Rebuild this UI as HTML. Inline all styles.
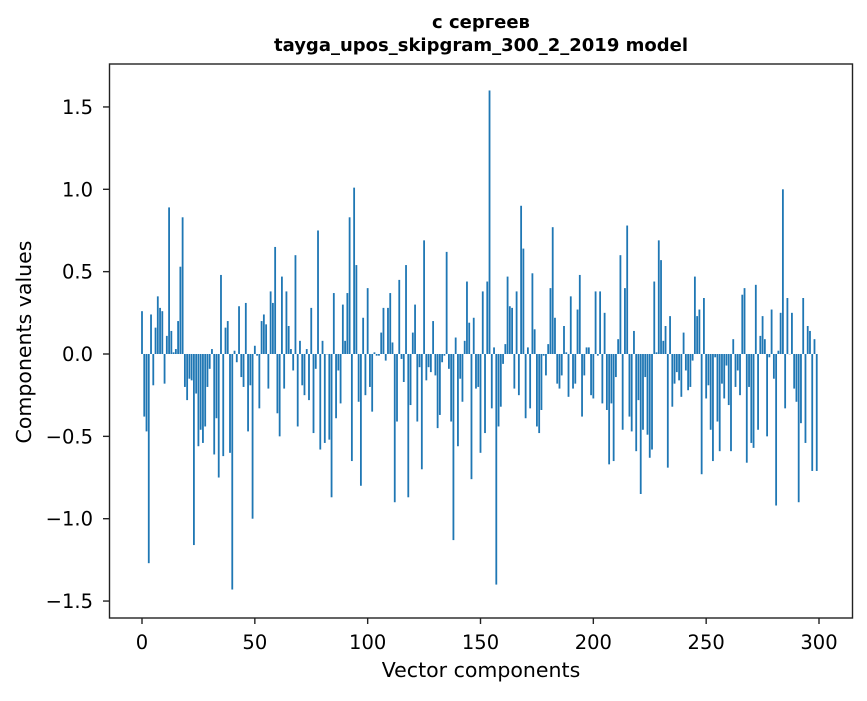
<!DOCTYPE html>
<html><head><meta charset="utf-8"><style>
html,body{margin:0;padding:0;background:#fff;}
svg text{font-family:"DejaVu Sans","Liberation Sans",sans-serif;fill:#000;}
</style></head><body>
<svg id="chart" width="867" height="696" xmlns="http://www.w3.org/2000/svg">
<text x="481" y="28" text-anchor="middle" font-size="18" font-weight="bold">с сергеев</text>
<text x="481" y="51" text-anchor="middle" font-size="18" font-weight="bold">tayga_upos_skipgram_300_2_2019 model</text>
<g id="bars"></g>
<rect x="109.5" y="64" width="743" height="554" fill="none" stroke="#222" stroke-width="1.4"/>
<g id="xticks"></g>
<g id="yticks"></g>
<text x="481" y="677" text-anchor="middle" font-size="20.5">Vector components</text>
<text transform="translate(31,342) rotate(-90)" text-anchor="middle" font-size="20.5">Components values</text>
</svg>
<script>
const values = [0.26,-0.38,-0.47,-1.27,0.24,-0.19,0.16,0.35,0.28,0.26,-0.18,0.11,0.89,0.14,0.01,0.03,0.2,0.53,0.83,-0.2,-0.28,-0.15,-0.16,-1.16,-0.24,-0.56,-0.46,-0.54,-0.44,-0.2,-0.09,0.03,-0.61,-0.39,-0.75,0.48,-0.62,0.16,0.2,-0.6,-1.43,0.02,-0.05,0.29,-0.14,-0.2,0.31,-0.47,-0.19,-1.0,0.05,
-0.01,-0.33,0.2,0.24,0.18,-0.21,0.38,0.31,0.65,-0.36,-0.5,0.47,-0.21,0.38,0.17,0.03,-0.1,0.6,-0.44,0.08,-0.19,-0.25,0.03,-0.28,0.28,-0.48,-0.09,0.75,-0.58,0.08,-0.54,
0.0,
-0.52,-0.87,0.37,-0.39,-0.1,-0.3,0.3,0.08,0.37,0.83,-0.65,1.01,0.54,-0.29,-0.8,0.22,-0.25,0.4,
-0.2,-0.35,0.01,-0.01,-0.01,0.13,0.28,-0.04,0.28,0.37,0.07,-0.9,-0.41,0.45,-0.03,-0.17,0.54,-0.87,-0.31,0.13,0.3,-0.41,-0.08,-0.7,0.69,-0.16,-0.08,-0.11,0.2,-0.13,-0.45,-0.37,-0.05,-0.01,0.62,-0.09,-0.41,-1.13,0.1,-0.56,-0.15,-0.29,0.08,0.44,0.19,-0.76,0.22,-0.21,-0.2,-0.6,
0.38,-0.48,0.44,1.6,-0.33,0.04,-1.4,-0.44,-0.32,-0.06,0.06,0.47,0.29,0.28,-0.21,0.38,-0.25,0.9,0.64,-0.39,0.04,-0.33,0.49,0.15,-0.44,-0.48,-0.34,-0.01,-0.13,0.06,0.4,0.77,0.22,-0.18,-0.21,-0.13,0.17,0.01,-0.26,0.35,-0.21,-0.18,0.27,0.48,-0.38,-0.13,0.04,0.04,-0.25,-0.27,
0.38,-0.01,0.38,-0.3,0.25,-0.34,-0.67,-0.3,-0.65,-0.14,0.09,0.6,-0.46,0.4,0.78,-0.38,-0.47,0.14,-0.59,-0.28,-0.85,-0.46,-0.14,-0.49,-0.63,-0.58,0.44,0.01,0.69,0.57,0.08,0.17,-0.69,0.23,-0.32,-0.18,-0.11,-0.16,-0.26,0.13,-0.1,-0.22,-0.2,-0.04,0.47,0.23,0.27,-0.73,0.34,-0.27,
-0.19,-0.46,-0.65,-0.02,-0.41,-0.59,-0.18,-0.27,-0.07,-0.31,-0.59,0.09,-0.2,-0.1,-0.25,0.36,0.4,-0.66,-0.2,-0.54,-0.57,0.42,-0.46,0.11,0.23,0.09,-0.5,-0.02,0.27,-0.15,-0.92,0.02,0.25,1.0,-0.33,0.34,0.0,0.25,-0.21,-0.29,-0.9,-0.42,0.34,-0.54,0.17,0.14,-0.71,0.09,-0.71];
const xTickValues = [0,50,100,150,200,250,300];
const yTickValues = [-1.5,-1.0,-0.5,0.0,0.5,1.0,1.5];
const yTickLabels = ["\u22121.5","\u22121.0","\u22120.5","0.0","0.5","1.0","1.5"];

const NS = "http://www.w3.org/2000/svg";
function xScale(v){ return 142 + v * (677/300); }
function yScale(v){ return 354 - v * 164.7; }

const barsG = document.getElementById('bars');
values.forEach((v, i) => {
  const r = document.createElementNS(NS, 'rect');
  
  
  const w = 0.8 * (677/300);
  const y0 = yScale(0), y1 = yScale(v);
  r.setAttribute('x', xScale(i) - w/2);
  r.setAttribute('y', Math.min(y0, y1));
  r.setAttribute('width', w);
  r.setAttribute('height', Math.max(Math.abs(y1 - y0), 0.3));
  r.setAttribute('fill', '#1f77b4');
  barsG.appendChild(r);
});

const xg = document.getElementById('xticks');
xTickValues.forEach(t => {
  const x = xScale(t);
  const l = document.createElementNS(NS, 'line');
  
  
  l.setAttribute('x1', x); l.setAttribute('x2', x);
  l.setAttribute('y1', 618); l.setAttribute('y2', 624);
  l.setAttribute('stroke', '#222');
  l.setAttribute('stroke-width', '1.4');
  xg.appendChild(l);
  const tx = document.createElementNS(NS, 'text');
  
  
  tx.setAttribute('x', x); tx.setAttribute('y', 649);
  tx.setAttribute('text-anchor', 'middle');
  tx.setAttribute('font-size', '19.5');
  tx.textContent = String(t);
  xg.appendChild(tx);
});

const yg = document.getElementById('yticks');
yTickValues.forEach((t, i) => {
  const y = yScale(t);
  const l = document.createElementNS(NS, 'line');
  
  
  l.setAttribute('x1', 103); l.setAttribute('x2', 109);
  l.setAttribute('y1', y); l.setAttribute('y2', y);
  l.setAttribute('stroke', '#222');
  l.setAttribute('stroke-width', '1.4');
  yg.appendChild(l);
  const tx = document.createElementNS(NS, 'text');
  
  
  tx.setAttribute('x', 93); tx.setAttribute('y', y + 7);
  tx.setAttribute('text-anchor', 'end');
  tx.setAttribute('font-size', '19.5');
  tx.textContent = yTickLabels[i];
  yg.appendChild(tx);
});
</script>
</body></html>
